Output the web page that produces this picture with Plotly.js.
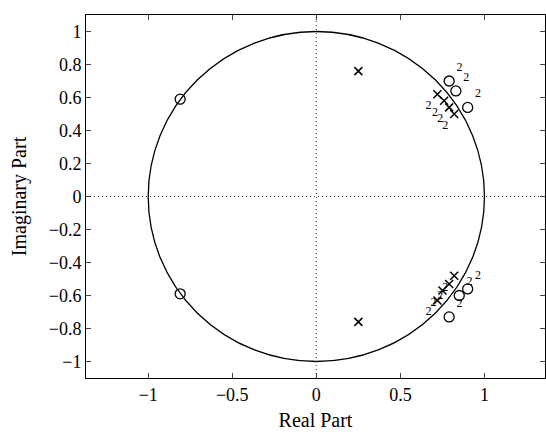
<!DOCTYPE html>
<html>
<head>
<meta charset="utf-8">
<script src="https://cdn.plot.ly/plotly-3.0.1.min.js"></script>
<style>html,body{margin:0;padding:0;background:#fff;}#chart{width:546px;height:434px;}</style>
</head>
<body>
<div id="chart"></div>
<script>
// Zeros (circles): real and imaginary parts, with multiplicity labels
const zeroRe = [-0.81, -0.81, 0.79, 0.83, 0.90, 0.79, 0.85, 0.90];
const zeroIm = [0.59, -0.59, 0.70, 0.64, 0.54, -0.73, -0.60, -0.56];
const zeroMult = ["", "", "2", "2", "2", "2", "2", "2"];
// Poles (crosses)
const poleRe = [0.25, 0.25, 0.72, 0.76, 0.79, 0.82, 0.72, 0.75, 0.79, 0.82];
const poleIm = [0.76, -0.76, 0.62, 0.58, 0.54, 0.50, -0.63, -0.57, -0.53, -0.48];
const poleMult = ["", "", "2", "2", "2", "2", "2", "2", "2", "2"];
// Tick values
const xTicks = [-1, -0.5, 0, 0.5, 1];
const yTicks = [-1, -0.8, -0.6, -0.4, -0.2, 0, 0.2, 0.4, 0.6, 0.8, 1];

const serif = "Liberation Serif, Times New Roman, serif";

const traces = [
  {
    x: zeroRe, y: zeroIm, text: zeroMult, mode: "markers+text", type: "scatter",
    textposition: "top right", textfont: {family: serif, size: 12, color: "#000"},
    marker: {symbol: "circle-open", size: 10, color: "#000", line: {width: 1.3, color: "#000"}},
    hoverinfo: "x+y", showlegend: false
  },
  {
    x: poleRe, y: poleIm, text: poleMult, mode: "markers+text", type: "scatter",
    textposition: "bottom left", textfont: {family: serif, size: 12, color: "#000"},
    marker: {symbol: "x-thin-open", size: 8, color: "#000", line: {width: 1.5, color: "#000"}},
    hoverinfo: "x+y", showlegend: false
  }
];

const layout = {
  width: 546, height: 434,
  margin: {l: 86, r: 1, t: 15, b: 56},
  paper_bgcolor: "#fff", plot_bgcolor: "#fff",
  font: {family: serif, size: 18, color: "#000"},
  xaxis: {
    range: [-1.37, 1.36], tickvals: xTicks, ticks: "inside", ticklen: 5,
    showline: true, mirror: "ticks", linecolor: "#000", linewidth: 1,
    showgrid: false, zeroline: false, tickfont: {family: serif, size: 18},
    title: {text: "Real Part", font: {family: serif, size: 20}, standoff: 9}
  },
  yaxis: {
    range: [-1.1, 1.1], tickvals: yTicks, ticks: "inside", ticklen: 5,
    showline: true, mirror: "ticks", linecolor: "#000", linewidth: 1,
    showgrid: false, zeroline: false, tickfont: {family: serif, size: 18},
    title: {text: "Imaginary Part", font: {family: serif, size: 20}, standoff: 16}
  },
  shapes: [
    {type: "circle", xref: "x", yref: "y", x0: -1, x1: 1, y0: -1, y1: 1,
     line: {color: "#000", width: 1.3}},
    {type: "line", xref: "x", yref: "paper", x0: 0, x1: 0, y0: 0, y1: 1,
     line: {color: "#333", width: 1, dash: "1px,3px"}},
    {type: "line", xref: "paper", yref: "y", x0: 0, x1: 1, y0: 0, y1: 0,
     line: {color: "#333", width: 1, dash: "1px,3px"}}
  ]
};

Plotly.newPlot("chart", traces, layout, {displayModeBar: false, staticPlot: true});
</script>
</body>
</html>
